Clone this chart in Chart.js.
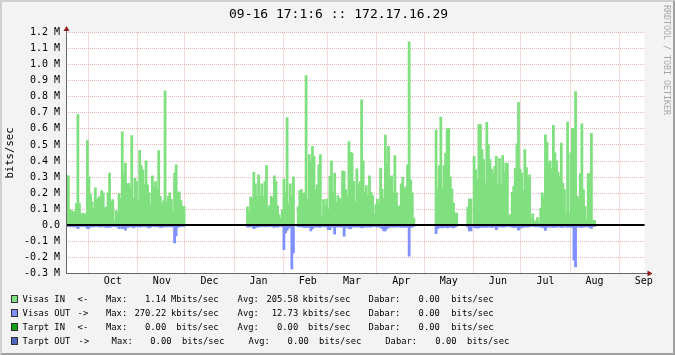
<!DOCTYPE html>
<html>
<head>
<meta charset="utf-8">
<title>Visas IN / OUT</title>
<script src="https://cdn.jsdelivr.net/npm/chart.js@4.4.1/dist/chart.umd.min.js"></script>
<style>
  html, body { margin: 0; padding: 0; background: #f3f3f3; }
  #graph { position: relative; width: 675px; height: 355px; overflow: hidden; }
  #graph canvas { position: absolute; left: 0; top: 0; }
  .frame {
    position: absolute; left: 0; top: 0; width: 675px; height: 355px; box-sizing: border-box;
    border-top: 2px solid #cfcfcf; border-left: 2px solid #cfcfcf;
    border-right: 2px solid #a0a0a0; border-bottom: 2px solid #a0a0a0;
    pointer-events: none;
  }
  .title { position: absolute; top: 5.5px; left: 229px; font: 13px "DejaVu Sans Mono"; line-height: 16px; color: #000; white-space: pre; }
  .mark { position: absolute; left: 662px; top: 5px; writing-mode: vertical-rl; font: 8.3px "DejaVu Sans Mono"; line-height: 10px; color: #a8a8a8; white-space: pre; }
  .lg { position: absolute; font: 8.8px "DejaVu Sans Mono"; line-height: 13px; color: #000; white-space: pre; }
  .lg.num { width: 60px; text-align: right; }
  .sw { position: absolute; width: 5px; height: 6px; border: 1px solid #303030; }
</style>
</head>
<body>
<div id="graph">
  <canvas id="rrdChart" width="675" height="355"></canvas>
  <div class="title">09-16 17:1:6 :: 172.17.16.29</div>
  <div class="mark">RRDTOOL / TOBI OETIKER</div>
  <div id="legend"></div>
  <div class="frame"></div>
</div>
<script>
"use strict";

/* ── Data ─────────────────────────────────────────────────────────────── */
const START_DATE = "2012-09-17";
const DAY_COUNT = 365;
const MONTH_LABELS = ["Oct", "Nov", "Dec", "Jan", "Feb", "Mar", "Apr", "May", "Jun", "Jul", "Aug", "Sep"];

const Y_TICKS = [-0.3, -0.2, -0.1, 0, 0.1, 0.2, 0.3, 0.4, 0.5, 0.6, 0.7, 0.8, 0.9, 1.0, 1.1, 1.2];
const Y_TICK_LABELS = ["-0.3 M", "-0.2 M", "-0.1 M", "0.0", "0.1 M", "0.2 M", "0.3 M", "0.4 M",
  "0.5 M", "0.6 M", "0.7 M", "0.8 M", "0.9 M", "1.0 M", "1.1 M", "1.2 M"];

// Visas IN, Mbits/sec, one value per day from Sep 17 (null = no data)
const IN_MBPS = [
  0.307, 0.307, 0.095, 0.090, 0.083, 0.083, 0.133, 0.687, 0.133, 0.064, 0.075, 0.070, 0.070,
  0.525, 0.300, 0.190, 0.145, 0.100, 0.232, 0.158, 0.170, 0.180, 0.214, 0.200, 0.105, 0.112,
  0.200, 0.324, 0.145, 0.158, 0.023, 0.090, 0.080, 0.195, 0.166, 0.580, 0.320, 0.386, 0.257,
  0.260, 0.236, 0.556, 0.166, 0.290, 0.270, 0.158, 0.465, 0.370, 0.344, 0.250, 0.400,
  0.250, 0.200, 0.127, 0.307, 0.234, 0.270, 0.224, 0.463, 0.178, 0.130, 0.150, 0.836,
  0.140, 0.180, 0.200, 0.160, 0.080, 0.324, 0.375, 0.200, 0.207, 0.153, 0.116, 0.116,
  null, null, null, null, null, null, null, null, null, null, null, null, null,
  null, null, null, null, null, null, null, null, null, null, null, null, null,
  null, null, null, null, null, null, null, null, null, null, null, null, null,
  0.114, 0.079, 0.174, 0.168, 0.328, 0.257, 0.183, 0.313, 0.178, 0.257,
  0.178, 0.270, 0.370, 0.106, 0.122, 0.178, 0.166, 0.307, 0.270, 0.120,
  0.064, 0.044, 0.093, 0.286, 0.207, 0.668, 0.133, 0.257, 0.183, 0.300,
  null, null, 0.114, 0.214, 0.220, 0.195, 0.200,
  0.930, 0.158, 0.438, 0.390, 0.490, 0.427, 0.220, 0.250, 0.375, 0.438,
  0.048, 0.158, 0.116, 0.162, 0.100, 0.303, 0.400, 0.203, 0.324, 0.141,
  0.183, 0.168, 0.158, 0.338, 0.334, 0.220, 0.183, 0.519, 0.452, 0.448,
  0.272, 0.145, 0.350, 0.249, 0.270, 0.780, 0.400, 0.203,
  0.245, 0.178, 0.307, 0.203, 0.183, 0.070, 0.127, 0.162, 0.131, 0.355,
  0.224, 0.164, 0.560, 0.386, 0.490, 0.293, 0.307, 0.200, 0.432, 0.200,
  0.116, 0.120, 0.257, 0.297, 0.226, 0.237, 0.375, 1.140, 0.282, 0.200, 0.041,
  null, null, null, null, null, null, null, null, null, null, null, null, null,
  0.593, 0.224, 0.370, 0.672, 0.230, 0.370, 0.448, 0.600, 0.600, 0.300, 0.224, 0.137, 0.075, 0.075,
  null, null, null, null, null, null,
  0.112, 0.162, 0.162, 0.008, 0.427, 0.344, 0.282, 0.625, 0.625, 0.469, 0.407, 0.261, 0.639, 0.500,
  0.407, 0.349, 0.313, 0.365, 0.427, 0.257, 0.413, 0.251, 0.432, 0.328,
  0.386, 0.382, 0.054, 0.066, 0.203, 0.241, 0.353, 0.506, 0.763, 0.349,
  0.324, 0.216, 0.469, 0.357, 0.296, 0.313, 0.044, 0.070, 0.027, 0.023,
  0.046, 0.012, 0.106, 0.200, 0.168, 0.562, 0.514,
  0.386, 0.400, 0.350, 0.620, 0.450, 0.400, 0.330, 0.300, 0.510, 0.260,
  0.220, 0.075, 0.640, 0.075, 0.450, 0.600, 0.600, 0.830, 0.180, 0.170,
  0.320, 0.630, 0.220, 0.116, 0.033, 0.320, 0.320, 0.570, 0.030, 0.030,
  null, null, null, null, null, null, null, null, null, null, null,
  null, null, null, null, null, null, null, null, null, null,
  null, null, null, null, null, null, null, null, null, null,
];

// Visas OUT, Mbits/sec (drawn below zero)
const OUT_MBPS = [
  -0.006, -0.006, -0.008, -0.006, -0.008, -0.008, -0.008, -0.020, -0.008, -0.006, -0.006, -0.006, -0.008,
  -0.017, -0.016, -0.008, -0.008, -0.008, -0.006, -0.006, -0.008, -0.008, -0.008, -0.006, -0.010, -0.010,
  -0.012, -0.010, -0.008, -0.006, -0.006, -0.008, -0.008, -0.020, -0.012, -0.020, -0.012, -0.028, -0.010,
  -0.010, -0.008, -0.006, -0.014, -0.008, -0.008, -0.006, -0.010, -0.008, -0.006, -0.006, -0.008,
  -0.008, -0.014, -0.010, -0.006, -0.006, -0.008, -0.006, -0.008, -0.012, -0.012, -0.008, -0.006,
  -0.008, -0.006, -0.008, -0.006, -0.010, -0.108, -0.064, -0.012, -0.008, -0.006, -0.006, -0.006,
  null, null, null, null, null, null, null, null, null, null, null, null, null,
  null, null, null, null, null, null, null, null, null, null, null, null, null,
  null, null, null, null, null, null, null, null, null, null, null, null, null,
  -0.008, -0.010, -0.006, -0.008, -0.020, -0.014, -0.008, -0.010, -0.006, -0.008,
  -0.006, -0.008, -0.006, -0.008, -0.006, -0.006, -0.008, -0.012, -0.006, -0.010,
  -0.006, -0.006, -0.008, -0.150, -0.045, -0.030, -0.016, -0.012, -0.270, -0.170,
  null, null, -0.008, -0.006, -0.008, -0.010, -0.010,
  -0.012, -0.010, -0.012, -0.033, -0.020, -0.010, -0.008, -0.010, -0.008, -0.012,
  -0.006, -0.006, -0.008, -0.008, -0.025, -0.025, -0.010, -0.008, -0.054, -0.010,
  -0.008, -0.008, -0.010, -0.008, -0.066, -0.012, -0.008, -0.020, -0.020, -0.008,
  -0.010, -0.008, -0.008, -0.010, -0.008, -0.015, -0.012, -0.008,
  -0.008, -0.010, -0.008, -0.010, -0.006, -0.006, -0.008, -0.008, -0.010, -0.010,
  -0.020, -0.033, -0.033, -0.020, -0.012, -0.008, -0.010, -0.008, -0.010, -0.008,
  -0.008, -0.008, -0.010, -0.010, -0.010, -0.008, -0.010, -0.190, -0.012, -0.008, -0.006,
  null, null, null, null, null, null, null, null, null, null, null, null, null,
  -0.050, -0.020, -0.012, -0.012, -0.015, -0.010, -0.010, -0.015, -0.012, -0.008, -0.010, -0.015, -0.008, -0.006,
  null, null, null, null, null, null,
  -0.010, -0.033, -0.033, -0.006,
  -0.012, -0.015, -0.015, -0.015, -0.012, -0.010, -0.010, -0.012, -0.010, -0.010,
  -0.008, -0.012, -0.010, -0.008, -0.025, -0.010, -0.008, -0.008, -0.010, -0.008,
  -0.008, -0.006, -0.006, -0.008, -0.010, -0.010, -0.012, -0.010, -0.028, -0.018,
  -0.010, -0.012, -0.008, -0.008, -0.010, -0.006, -0.006, -0.006, -0.006, -0.008,
  -0.006, -0.008, -0.010, -0.010, -0.015, -0.030, -0.012,
  -0.008, -0.010, -0.008, -0.012, -0.008, -0.010, -0.008, -0.008, -0.012, -0.010,
  -0.008, -0.006, -0.012, -0.008, -0.010, -0.012, -0.216, -0.258, -0.010, -0.008,
  -0.010, -0.012, -0.008, -0.008, -0.006, -0.010, -0.012, -0.018, -0.006, -0.006,
  null, null, null, null, null, null, null, null, null, null, null,
  null, null, null, null, null, null, null, null, null, null,
  null, null, null, null, null, null, null, null, null, null,
];

// Legend texts
const LEGEND_NAMES = ["Visas IN", "Visas OUT", "Tarpt IN", "Tarpt OUT"];
const LEGEND_ARROWS = ["<-", "->", "<-", "->"];
const LEGEND_MAX = ["1.14", "270.22", "0.00", "0.00"];
const LEGEND_MAX_UNIT = ["Mbits/sec", "kbits/sec", " bits/sec", " bits/sec"];
const LEGEND_AVG = ["205.58", "12.73", "0.00", "0.00"];
const LEGEND_AVG_UNIT = ["kbits/sec", "kbits/sec", " bits/sec", " bits/sec"];
const LEGEND_LAST = ["0.00", "0.00", "0.00", "0.00"];
const LEGEND_LAST_UNIT = [" bits/sec", " bits/sec", " bits/sec", " bits/sec"];

/* ── Styles ───────────────────────────────────────────────────────────── */
const COLOR_IN = "#80e080";
const COLOR_OUT = "#8090ff";
const SWATCH_COLORS = [COLOR_IN, COLOR_OUT, "#10a010", "#5068c0"];
const GRID_COLOR = "#e6b6b6";
const AXIS_COLOR = "#666666";
const ARROW_COLOR = "#8e1c1c";
const MONO = "DejaVu Sans Mono";

// legend columns (x of text start, or text end for numbers)
const LEGEND_ROW_Y = [299.3, 313.3, 327.3, 341.3];
const COLS_NORMAL = { name: 22.6, arrow: 77.6, max: 106, maxEnd: 166.2, maxUnit: 171, avg: 237.6, avgEnd: 298.2, avgUnit: 302.6, last: 368.6, lastEnd: 439.8, lastUnit: 446 };
const COLS_WIDE = { name: 22.6, arrow: 78.6, max: 111.6, maxEnd: 171.5, maxUnit: 176.6, avg: 248.6, avgEnd: 308.8, avgUnit: 313.6, last: 385.3, lastEnd: 456.5, lastUnit: 461.6 };

/* ── Helpers ─────────────────────────────────────────────────────────── */
function buildDays(startDate, count) {
  const [y, m, d] = startDate.split("-").map(Number);
  return Array.from({ length: count }, (_, i) => new Date(Date.UTC(y, m - 1, d + i)));
}

function addText(parent, cls, text, left, top, rightAlignEnd) {
  const el = document.createElement("div");
  el.className = cls;
  el.textContent = text;
  el.style.left = (rightAlignEnd ? left - 60 : left) + "px";
  el.style.top = top + "px";
  parent.appendChild(el);
}

function buildLegend() {
  const box = document.getElementById("legend");
  LEGEND_NAMES.forEach((name, i) => {
    const c = i === 3 ? COLS_WIDE : COLS_NORMAL;
    const top = LEGEND_ROW_Y[i] - 6.8;
    const sw = document.createElement("div");
    sw.className = "sw";
    sw.style.background = SWATCH_COLORS[i];
    sw.style.left = "11px";
    sw.style.top = (LEGEND_ROW_Y[i] - 4) + "px";
    box.appendChild(sw);
    addText(box, "lg", name, c.name, top);
    addText(box, "lg", LEGEND_ARROWS[i], c.arrow, top);
    addText(box, "lg", "Max:", c.max, top);
    addText(box, "lg num", LEGEND_MAX[i], c.maxEnd, top, true);
    addText(box, "lg", LEGEND_MAX_UNIT[i], c.maxUnit, top);
    addText(box, "lg", "Avg:", c.avg, top);
    addText(box, "lg num", LEGEND_AVG[i], c.avgEnd, top, true);
    addText(box, "lg", LEGEND_AVG_UNIT[i], c.avgUnit, top);
    addText(box, "lg", "Dabar:", c.last, top);
    addText(box, "lg num", LEGEND_LAST[i], c.lastEnd, top, true);
    addText(box, "lg", LEGEND_LAST_UNIT[i], c.lastUnit, top);
  });
}

/* ── Frame plugin: backgrounds, zero rule, axes with arrows ───────────── */
const rrdFrame = {
  id: "rrdFrame",
  beforeDraw(chart) {
    const { ctx, chartArea: a } = chart;
    ctx.save();
    ctx.fillStyle = "#f3f3f3";
    ctx.fillRect(0, 0, chart.width, chart.height);
    ctx.fillStyle = "#ffffff";
    ctx.fillRect(a.left, a.top, a.right - a.left, a.bottom - a.top);
    ctx.restore();
  },
  afterDraw(chart) {
    const { ctx, chartArea: a } = chart;
    const y0 = Math.round(chart.scales.y.getPixelForValue(0));
    const xl = Math.round(a.left - 0.5) + 0.5;
    const yb = Math.round(a.bottom - 0.5) + 0.5;
    ctx.save();
    ctx.strokeStyle = "#000";
    ctx.lineWidth = 2;
    ctx.beginPath();
    ctx.moveTo(a.left, y0);
    ctx.lineTo(a.right, y0);
    ctx.stroke();

    ctx.strokeStyle = AXIS_COLOR;
    ctx.lineWidth = 1;
    ctx.beginPath();
    ctx.moveTo(xl, yb);
    ctx.lineTo(xl, a.top - 3);
    ctx.moveTo(xl, yb);
    ctx.lineTo(a.right + 4, yb);
    ctx.stroke();

    ctx.fillStyle = ARROW_COLOR;
    ctx.beginPath();
    ctx.moveTo(xl, a.top - 6.5);
    ctx.lineTo(xl - 3, a.top - 1.5);
    ctx.lineTo(xl + 3, a.top - 1.5);
    ctx.closePath();
    ctx.fill();
    ctx.beginPath();
    ctx.moveTo(a.right + 8, yb);
    ctx.lineTo(a.right + 3, yb - 3);
    ctx.lineTo(a.right + 3, yb + 3);
    ctx.closePath();
    ctx.fill();
    ctx.restore();
  },
};

/* ── Chart ───────────────────────────────────────────────────────────── */
function initChart() {
  const days = buildDays(START_DATE, DAY_COUNT);
  const labels = days.map((d) => d.toISOString().slice(0, 10));
  const monthStarts = days.map((d, i) => (d.getUTCDate() === 1 ? i : -1)).filter((i) => i >= 0);
  const monthStartSet = new Set(monthStarts);
  const labelAt = new Map(monthStarts.map((s, k) => [s + 15, MONTH_LABELS[k]]));

  // inflate a little so neighbouring day-bars merge into one area
  const barStyle = { grouped: false, barPercentage: 1, categoryPercentage: 1, borderWidth: 0, inflateAmount: 0.6 };

  new Chart(document.getElementById("rrdChart"), {
    type: "bar",
    data: {
      labels,
      datasets: [
        { label: "Visas IN", data: IN_MBPS, backgroundColor: COLOR_IN, ...barStyle },
        { label: "Visas OUT", data: OUT_MBPS, backgroundColor: COLOR_OUT, ...barStyle },
      ],
    },
    options: {
      responsive: false,
      animation: false,
      devicePixelRatio: 1,
      layout: { padding: { top: 32.5, right: 30.5, bottom: 0, left: 0 } },
      plugins: { legend: { display: false }, tooltip: { enabled: false } },
      scales: {
        x: {
          z: 1,
          afterFit: (axis) => { axis.height = 81.5; },
          grid: {
            drawTicks: false,
            lineWidth: 1,
            color: (c) => (monthStartSet.has(c.index) ? GRID_COLOR : "rgba(0,0,0,0)"),
          },
          border: { display: false, dash: [1, 1] },
          ticks: {
            autoSkip: false,
            maxRotation: 0,
            minRotation: 0,
            padding: 2,
            color: "#000",
            font: { family: MONO, size: 10 },
            callback: (v, i) => labelAt.get(i) || "",
          },
        },
        y: {
          z: 1,
          min: -0.3,
          max: 1.2,
          afterBuildTicks: (axis) => { axis.ticks = Y_TICKS.map((v) => ({ value: v })); },
          afterFit: (axis) => { axis.width = 66; },
          grid: { color: GRID_COLOR, lineWidth: 1, drawTicks: false },
          border: { display: false, dash: [1, 1] },
          ticks: {
            padding: 6,
            color: "#000",
            font: { family: MONO, size: 10 },
            callback: (v, i) => Y_TICK_LABELS[i],
          },
          title: {
            display: true,
            text: "bits/sec",
            color: "#000",
            font: { family: MONO, size: 10.6 },
            padding: { top: 4, bottom: 0 },
          },
        },
      },
    },
    plugins: [rrdFrame],
  });
}

document.addEventListener("DOMContentLoaded", () => {
  if (IN_MBPS.length !== DAY_COUNT || OUT_MBPS.length !== DAY_COUNT) {
    console.error("series length", IN_MBPS.length, OUT_MBPS.length);
  }
  buildLegend();
  initChart();
});
</script>
</body>
</html>
